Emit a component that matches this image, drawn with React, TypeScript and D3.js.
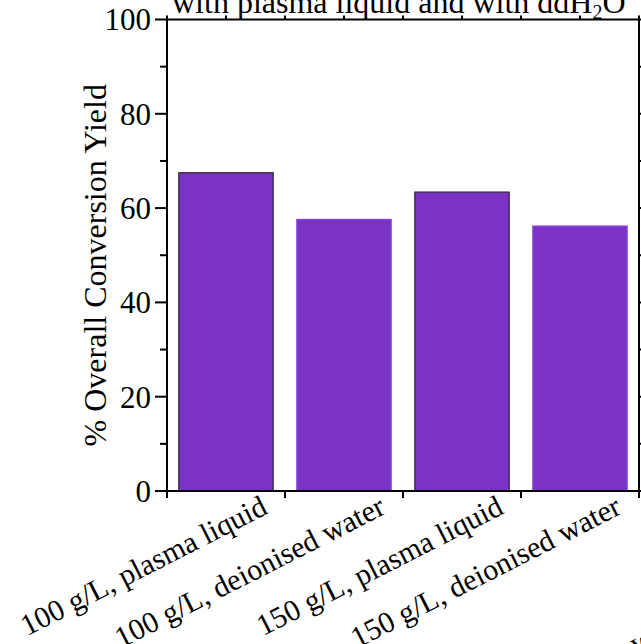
import React from "react";
import * as d3 from "d3";

const categories = [
  "100 g/L, plasma liquid",
  "100 g/L, deionised water",
  "150 g/L, plasma liquid",
  "150 g/L, deionised water",
];
const yields = [67.5, 57.6, 63.4, 56.2];
const yMajorTicks = [0, 20, 40, 60, 80, 100];
const yMinorTicks = [10, 30, 50, 70, 90];
const barStrokes = ["#2a2a2a", "#8c46e4", "#2a2a2a", "#8c46e4"];

const W = 641;
const H = 644;
const left = 167;
const right = 639;
const top = 19.5;
const bottom = 491;
const FONT = "'Liberation Serif', 'Times New Roman', serif";
const FS = 31;

export default function App() {
  const xb = d3.scaleBand<string>().domain(categories).range([left, right]).padding(0);
  const y = d3.scaleLinear().domain([0, 100]).range([bottom, top]);
  const bw = xb.bandwidth();
  const barW = bw * 0.8;
  const boundaries = d3.range(categories.length + 1).map((i) => left + i * bw);
  const topTicks = d3.range(categories.length * 2 + 1).map((i) => left + (i * bw) / 2);
  const rightTicks = [...yMajorTicks, ...yMinorTicks];

  return (
    <svg
      width={W}
      height={H}
      style={{ position: "absolute", left: 0, top: 0, background: "#fff" }}
      fontFamily={FONT}
    >
      {/* title (second line, partially cut) */}
      <text x={172} y={13} fontSize={32} fill="#000">
        with plasma liquid and with ddH
        <tspan fontSize={20} dy={6}>2</tspan>
        <tspan dy={-6}>O</tspan>
      </text>

      {/* bars */}
      {categories.map((c, i) => {
        const cx = (xb(c) as number) + bw / 2;
        return (
          <rect
            key={c}
            x={cx - barW / 2}
            y={y(yields[i])}
            width={barW}
            height={y(0) - y(yields[i])}
            fill="#7a33c4"
            stroke={barStrokes[i]}
            strokeWidth={1.2}
          />
        );
      })}

      {/* frame */}
      <line x1={left} x2={right} y1={top} y2={top} stroke="#000" strokeWidth={2} />
      <line x1={right} x2={right} y1={top} y2={bottom} stroke="#000" strokeWidth={2} />
      <line x1={left} x2={left} y1={top - 1} y2={bottom + 1} stroke="#000" strokeWidth={2} />
      <line x1={left - 1} x2={right + 1} y1={bottom} y2={bottom} stroke="#000" strokeWidth={2} />

      {/* top ticks */}
      {topTicks.map((t, i) => (
        <line key={"tt" + i} x1={t} x2={t} y1={top} y2={top - 4} stroke="#000" strokeWidth={2} />
      ))}
      {/* right ticks */}
      {rightTicks.map((t) => (
        <line key={"rt" + t} x1={right} x2={right + 5} y1={y(t)} y2={y(t)} stroke="#000" strokeWidth={2} />
      ))}

      {/* y axis ticks */}
      {yMajorTicks.map((t) => (
        <g key={"ym" + t}>
          <line x1={left - 12} x2={left} y1={y(t)} y2={y(t)} stroke="#000" strokeWidth={2} />
          <text x={left - 16} y={y(t)} dy="0.35em" textAnchor="end" fontSize={FS} fill="#000">
            {t}
          </text>
        </g>
      ))}
      {yMinorTicks.map((t) => (
        <line key={"yn" + t} x1={left - 7} x2={left} y1={y(t)} y2={y(t)} stroke="#000" strokeWidth={2} />
      ))}

      {/* y axis title */}
      <text
        transform={`translate(106, ${(top + bottom) / 2 + 10}) rotate(-90)`}
        textAnchor="middle"
        fontSize={FS + 1}
        fill="#000"
      >
        % Overall Conversion Yield
      </text>

      {/* x axis ticks */}
      {boundaries.map((b, i) => (
        <line key={"xb" + i} x1={b} x2={b} y1={bottom} y2={bottom + 7} stroke="#000" strokeWidth={2} />
      ))}

      {/* x tick labels */}
      {categories.map((c) => {
        const cx = (xb(c) as number) + bw / 2;
        return (
          <text
            key={"xl" + c}
            transform={`translate(${cx + 43}, ${bottom + 22}) rotate(-27)`}
            textAnchor="end"
            fontSize={30}
            fill="#000"
          >
            {c}
          </text>
        );
      })}

      {/* clipped glyph of a further label at the bottom right */}
      <text transform="translate(636, 654) rotate(-27)" fontSize={30} fill="#000">
        w
      </text>
    </svg>
  );
}
